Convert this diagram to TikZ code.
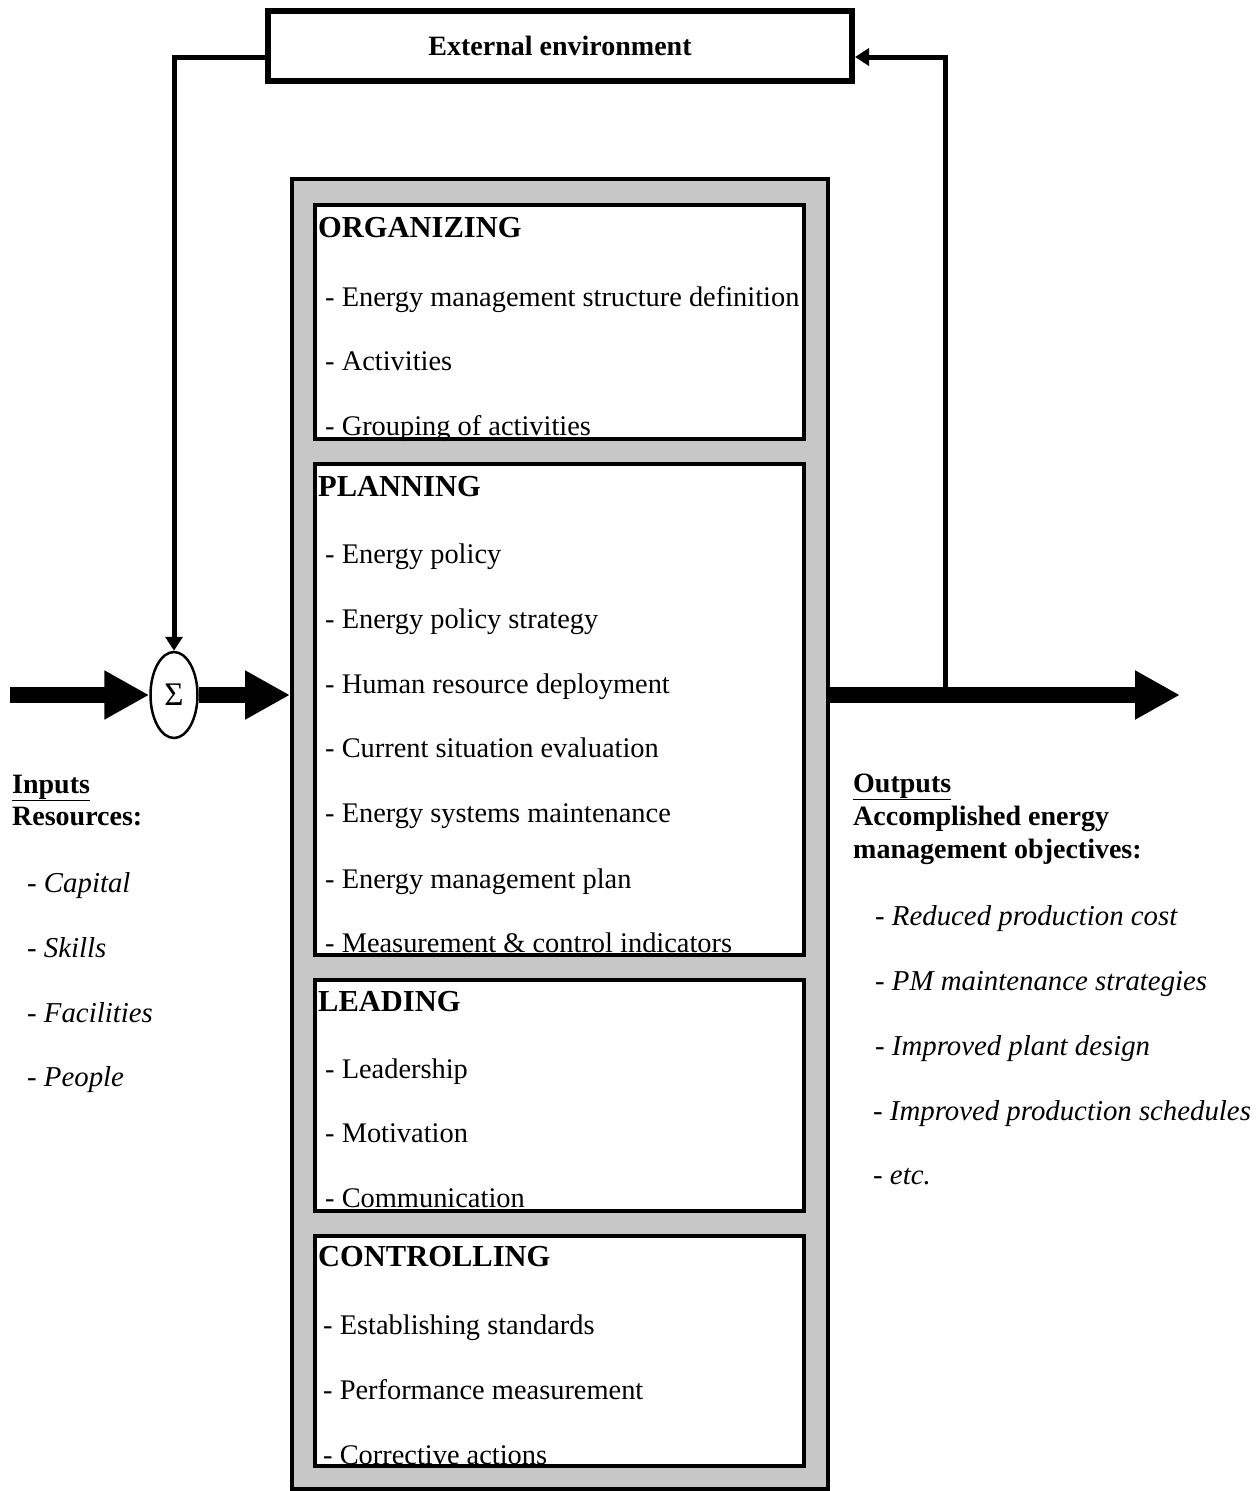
\documentclass[tikz,border=0pt]{standalone}
\usepackage{fontspec}
\setmainfont{Liberation Serif}
\usetikzlibrary{arrows.meta,shapes.geometric}
\tikzset{
  bigarrow/.style={line width=16pt, -{Triangle[length=45pt,width=46pt]}},
  feedback/.style={line width=5pt, -{Triangle[length=14pt,width=17pt]}},
  funcbox/.style={draw, line width=3.5pt, fill=white, inner sep=0pt},
  head/.style={anchor=base west, inner sep=0pt, font=\fontsize{30.5}{33}\selectfont\bfseries},
  label/.style={anchor=base west, inner sep=0pt, font=\bfseries},
  item/.style={anchor=base west, inner sep=0pt, font=\fontsize{28.4}{33}\selectfont},
  result/.style={anchor=base west, inner sep=0pt, font=\fontsize{28.8}{33}\selectfont\itshape},
}
\begin{document}
\fontsize{28}{33}\selectfont
\begin{tikzpicture}[x=1pt, y=-1pt]
\useasboundingbox (0,0) rectangle (1260,1491);
\node (env) at (560,46) [draw, line width=6pt, minimum width=584, minimum height=70, font=\bfseries] {External environment};
\node (core) at (560,834) [draw, line width=4pt, fill=black!22, minimum width=536, minimum height=1310] {};
\node (organizing) at (559.5,322) [funcbox, minimum width=489, minimum height=234] {};
\node (planning) at (559.5,709.5) [funcbox, minimum width=489, minimum height=491] {};
\node (leading) at (559.5,1095.5) [funcbox, minimum width=489, minimum height=231] {};
\node (controlling) at (559.5,1351) [funcbox, minimum width=489, minimum height=230] {};
\node (sum) at (174,695) [draw, ellipse, line width=2.5pt, fill=white, minimum width=47, minimum height=86, inner sep=0pt, font=\fontsize{33}{36}\selectfont] {Σ};
% organizing
\node (orghead) at (318,237) [head] {ORGANIZING};
\node (org1) at (325,306) [item] {- Energy management structure definition};
\node (org2) at (325,370) [item] {- Activities};
\node (org3) at (325,435) [item] {- Grouping of activities};
% planning
\node (planhead) at (318,496) [head] {PLANNING};
\node (plan1) at (325,563) [item] {- Energy policy};
\node (plan2) at (325,628) [item] {- Energy policy strategy};
\node (plan3) at (325,693) [item] {- Human resource deployment};
\node (plan4) at (325,757) [item] {- Current situation evaluation};
\node (plan5) at (325,822) [item] {- Energy systems maintenance};
\node (plan6) at (325,888) [item] {- Energy management plan};
\node (plan7) at (325,952) [item] {- Measurement \& control indicators};
% leading
\node (leadhead) at (318,1011) [head] {LEADING};
\node (lead1) at (325,1078) [item] {- Leadership};
\node (lead2) at (325,1142) [item] {- Motivation};
\node (lead3) at (325,1207) [item] {- Communication};
% controlling
\node (ctrlhead) at (318,1266) [head] {CONTROLLING};
\node (ctrl1) at (323,1334) [item] {- Establishing standards};
\node (ctrl2) at (323,1399) [item] {- Performance measurement};
\node (ctrl3) at (323,1464) [item] {- Corrective actions};
% inputs
\node (inhead) at (12,793) [label] {\underline{Inputs}};
\node (insub) at (12,825) [label] {Resources:};
\node (in1) at (27,892) [result] {- Capital};
\node (in2) at (27,957) [result] {- Skills};
\node (in3) at (27,1022) [result] {- Facilities};
\node (in4) at (27,1086) [result] {- People};
% outputs
\node (outhead) at (853,792) [label] {\underline{Outputs}};
\node (outsub1) at (853,825) [label] {Accomplished energy};
\node (outsub2) at (853,858) [label] {management objectives:};
\node (out1) at (875,925) [result] {- Reduced production cost};
\node (out2) at (875,990) [result] {- PM maintenance strategies};
\node (out3) at (875,1055) [result] {- Improved plant design};
\node (out4) at (873,1120) [result] {- Improved production schedules};
\node (out5) at (873,1184) [result] {- etc.};
% connectors
\coordinate (inlet) at (10,695);
\coordinate (outlet) at (1180,695);
\coordinate (tap) at (945,695);
\draw [bigarrow] (inlet) -- (sum.west);
\draw [bigarrow] (sum.east) -- (sum.east -| core.west);
\draw [bigarrow] (core.east |- sum) -- (outlet);
\draw [feedback] (tap) |- ([yshift=-11pt]env.east);
\draw [feedback] ([yshift=-11pt]env.west) -| (sum.north);
\end{tikzpicture}
\end{document}
